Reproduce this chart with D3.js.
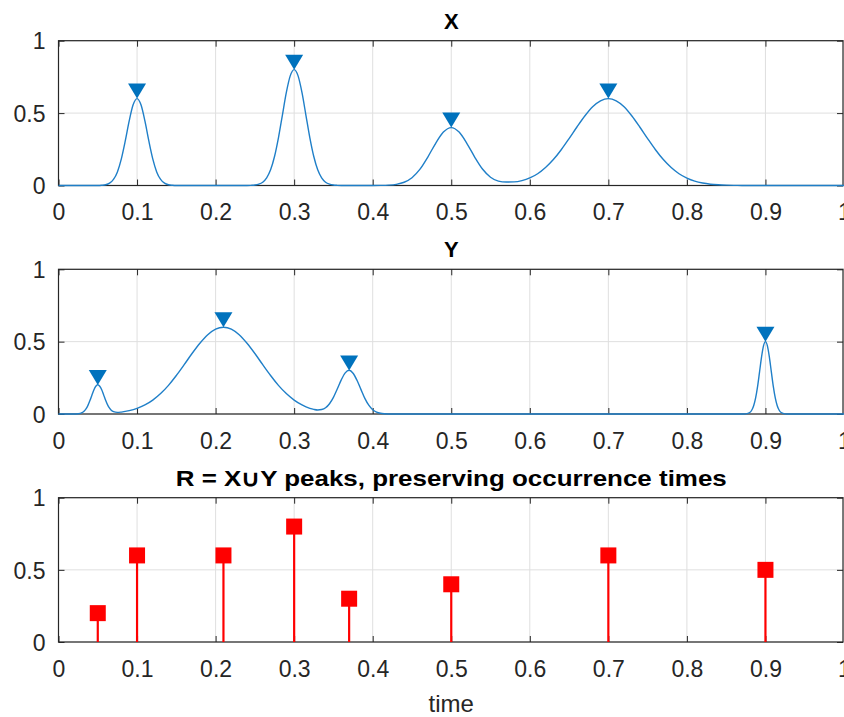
<!DOCTYPE html>
<html>
<head>
<meta charset="utf-8">
<script src="https://cdn.jsdelivr.net/npm/d3@7"></script>
<style>
  body { margin: 0; background: #fff; }
  text { font-family: "Liberation Sans", Arial, sans-serif; }
</style>
</head>
<body>
<div id="chart"></div>
<script>
// signal X
const xTimes = [0, 0.01, 0.02, 0.03, 0.04, 0.05, 0.055, 0.06, 0.065, 0.07, 0.075, 0.08, 0.085, 0.09, 0.095,
  0.1, 0.105, 0.11, 0.115, 0.12, 0.125, 0.13, 0.135, 0.14, 0.145, 0.15, 0.16, 0.18, 0.2, 0.22, 0.24,
  0.245, 0.25, 0.255, 0.26, 0.265, 0.27, 0.275, 0.28, 0.285, 0.29, 0.295, 0.3, 0.305, 0.31, 0.315,
  0.32, 0.325, 0.33, 0.335, 0.34, 0.345, 0.35, 0.355, 0.36, 0.38, 0.4, 0.41, 0.42, 0.43, 0.44, 0.45,
  0.46, 0.47, 0.48, 0.49, 0.5, 0.51, 0.52, 0.53, 0.54, 0.55, 0.56, 0.57, 0.58, 0.59, 0.6, 0.61, 0.62,
  0.63, 0.64, 0.65, 0.66, 0.67, 0.68, 0.69, 0.7, 0.71, 0.72, 0.73, 0.74, 0.75, 0.76, 0.77, 0.78, 0.79,
  0.8, 0.81, 0.82, 0.83, 0.84, 0.85, 0.86, 0.87, 0.88, 0.9, 0.95, 1];
const xValues = [0, 0, 0, 0, 0, 0, 0.0015, 0.005, 0.016, 0.042, 0.094, 0.184, 0.308, 0.446, 0.557,
  0.6, 0.557, 0.446, 0.308, 0.184, 0.094, 0.042, 0.016, 0.005, 0.0015, 0, 0, 0, 0, 0, 0,
  0.001, 0.003, 0.009, 0.023, 0.053, 0.108, 0.2, 0.329, 0.485, 0.641, 0.757, 0.8, 0.757, 0.641, 0.485,
  0.329, 0.2, 0.108, 0.053, 0.023, 0.009, 0.003, 0.001, 0, 0, 0, 0.0006, 0.0024, 0.008, 0.0225, 0.054,
  0.111, 0.195, 0.29, 0.369, 0.4, 0.369, 0.29, 0.195, 0.112, 0.057, 0.03, 0.024, 0.025, 0.034, 0.052, 0.081, 0.124,
  0.179, 0.247, 0.324, 0.404, 0.48, 0.544, 0.585, 0.6, 0.585, 0.544, 0.48, 0.404, 0.324, 0.247, 0.179, 0.124, 0.081,
  0.051, 0.03, 0.017, 0.009, 0.0047, 0.0023, 0.0011, 0.0005, 0, 0, 0, 0];

// signal Y
const yTimes = [0, 0.01, 0.02, 0.025, 0.03, 0.0325, 0.035, 0.0375, 0.04, 0.0425, 0.045, 0.0475, 0.05,
  0.0525, 0.055, 0.0575, 0.06, 0.0625, 0.065, 0.0675, 0.07, 0.075, 0.08, 0.09, 0.1, 0.11, 0.12, 0.13,
  0.14, 0.15, 0.16, 0.17, 0.18, 0.19, 0.2, 0.21, 0.22, 0.23, 0.24, 0.25, 0.26, 0.27, 0.28, 0.29, 0.3,
  0.31, 0.32, 0.325, 0.33, 0.335, 0.34, 0.345, 0.35, 0.355, 0.36, 0.365, 0.37, 0.375, 0.38, 0.385,
  0.39, 0.395, 0.4, 0.405, 0.41, 0.415, 0.42, 0.43, 0.5, 0.6, 0.7, 0.8, 0.87, 0.875, 0.88, 0.8825,
  0.885, 0.8875, 0.89, 0.8925, 0.895, 0.8975, 0.9, 0.9025, 0.905, 0.9075, 0.91, 0.9125, 0.915, 0.9175,
  0.92, 0.925, 0.93, 1];
const yValues = [0, 0, 0.0004, 0.0018, 0.0092, 0.0188, 0.0351, 0.0597, 0.0925, 0.13, 0.166, 0.192, 0.202,
  0.192, 0.168, 0.132, 0.095, 0.063, 0.04, 0.024, 0.016, 0.011, 0.0133, 0.023, 0.0388, 0.0624, 0.0959, 0.141,
  0.198, 0.266, 0.341, 0.418, 0.489, 0.548, 0.587, 0.6, 0.587, 0.548, 0.489, 0.418, 0.341, 0.266, 0.198, 0.141, 0.096,
  0.0624, 0.0393, 0.032, 0.028, 0.031, 0.043, 0.071, 0.115, 0.174, 0.236, 0.284, 0.302, 0.282, 0.233, 0.17,
  0.108, 0.061, 0.03, 0.013, 0.005, 0.0017, 0.0005, 0, 0, 0, 0, 0, 0, 0.0012, 0.0106, 0.026,
  0.057, 0.111, 0.191, 0.291, 0.393, 0.471, 0.5, 0.471, 0.393, 0.291, 0.191, 0.111, 0.057, 0.026,
  0.0106, 0.0012, 0, 0];

// detected peaks
const xPeakTimes = [0.1, 0.3, 0.5, 0.7];
const xPeakValues = [0.6, 0.8, 0.4, 0.6];
const yPeakTimes = [0.05, 0.21, 0.37, 0.9];
const yPeakValues = [0.2, 0.6, 0.3, 0.5];

const xTicks = [0, 0.1, 0.2, 0.3, 0.4, 0.5, 0.6, 0.7, 0.8, 0.9, 1];
const yTicks = [0, 0.5, 1];
const titles = ["X", "Y", "R = X\u222AY peaks, preserving occurrence times"];

// R = union of both peak sets, sorted by time
const rPeaks = xPeakTimes.map((t, i) => ({ t: t, v: xPeakValues[i] }))
  .concat(yPeakTimes.map((t, i) => ({ t: t, v: yPeakValues[i] })))
  .sort((a, b) => a.t - b.t);

const width = 844, height = 717;
const svg = d3.select("#chart").append("svg")
  .attr("width", width)
  .attr("height", height);

const x = d3.scaleLinear().domain([0, 1]).range([58.5, 844]);
const panels = [
  { top: 40.7, bottom: 185.5 },
  { top: 269.3, bottom: 414 },
  { top: 497.7, bottom: 642 }
];
const axisColor = "#262626";

panels.forEach((p, k) => {
  const y = d3.scaleLinear().domain([0, 1]).range([p.bottom, p.top]);
  p.y = y;
  const g = svg.append("g");

  // grid
  g.append("g").selectAll("line").data(xTicks).join("line")
    .attr("x1", d => x(d)).attr("x2", d => x(d))
    .attr("y1", p.top).attr("y2", p.bottom)
    .attr("stroke", "#dfdfdf").attr("stroke-width", 1);
  g.append("g").selectAll("line").data(yTicks).join("line")
    .attr("x1", x(0)).attr("x2", x(1))
    .attr("y1", d => y(d)).attr("y2", d => y(d))
    .attr("stroke", "#dfdfdf").attr("stroke-width", 1);

  // axes with inward ticks
  const bottomAxis = g.append("g").attr("transform", `translate(0,${p.bottom})`)
    .call(d3.axisBottom(x).tickValues(xTicks).tickSize(-6).tickPadding(14).tickFormat(d3.format("~g")));
  const topAxis = g.append("g").attr("transform", `translate(0,${p.top})`)
    .call(d3.axisTop(x).tickValues(xTicks).tickSize(-6).tickFormat(""));
  const leftAxis = g.append("g").attr("transform", `translate(${x(0)},0)`)
    .call(d3.axisLeft(y).tickValues(yTicks).tickSize(-6).tickPadding(13).tickFormat(d3.format("~g")));
  const rightAxis = g.append("g").attr("transform", `translate(${x(1) - 1},0)`)
    .call(d3.axisRight(y).tickValues(yTicks).tickSize(-6).tickFormat(""));

  [bottomAxis, topAxis, leftAxis, rightAxis].forEach(a => {
    a.select(".domain").remove();
    a.selectAll("line").attr("stroke", axisColor);
    a.selectAll("text").attr("fill", axisColor).style("font-size", "23px");
  });
  bottomAxis.selectAll("text").attr("dy", "0.9em");
  leftAxis.selectAll("text").attr("dy", "0.36em");

  g.append("rect")
    .attr("x", x(0)).attr("y", p.top)
    .attr("width", x(1) - 1 - x(0)).attr("height", p.bottom - p.top)
    .attr("fill", "none").attr("stroke", axisColor).attr("stroke-width", 1.2);

  const title = g.append("text")
    .attr("x", (x(0) + x(1)) / 2).attr("y", p.top - 12)
    .attr("text-anchor", "middle")
    .style("font-size", "22px").style("font-weight", "bold")
    .attr("fill", "#000")
    .text(titles[k]);
  if (k === 2) {
    title.attr("textLength", 551).attr("lengthAdjust", "spacingAndGlyphs");
  }
});

// curves and peak markers
const curveLine = d3.line().curve(d3.curveMonotoneX);
const triangle = "M0,0 L-9,-15 L9,-15 Z";

function drawSignal(p, times, values, peakTimes, peakValues) {
  svg.append("path")
    .attr("d", curveLine(times.map((t, i) => [x(t), p.y(values[i])])))
    .attr("fill", "none")
    .attr("stroke", "#1f7fc8")
    .attr("stroke-width", 1.4);
  svg.append("g").selectAll("path").data(peakTimes).join("path")
    .attr("d", triangle)
    .attr("transform", (d, i) => `translate(${x(d)},${p.y(peakValues[i])})`)
    .attr("fill", "#0072BD");
}
drawSignal(panels[0], xTimes, xValues, xPeakTimes, xPeakValues);
drawSignal(panels[1], yTimes, yValues, yPeakTimes, yPeakValues);

// stems for R
const pr = panels[2];
svg.append("g").selectAll("line").data(rPeaks).join("line")
  .attr("x1", d => x(d.t)).attr("x2", d => x(d.t))
  .attr("y1", pr.y(0)).attr("y2", d => pr.y(d.v))
  .attr("stroke", "#ff0000").attr("stroke-width", 2.2);
svg.append("g").selectAll("rect").data(rPeaks).join("rect")
  .attr("x", d => x(d.t) - 8).attr("y", d => pr.y(d.v) - 8)
  .attr("width", 16).attr("height", 16)
  .attr("fill", "#ff0000");

svg.append("text")
  .attr("x", (x(0) + x(1)) / 2).attr("y", 712)
  .attr("text-anchor", "middle")
  .attr("fill", axisColor)
  .style("font-size", "24px")
  .text("time");
</script>
</body>
</html>
